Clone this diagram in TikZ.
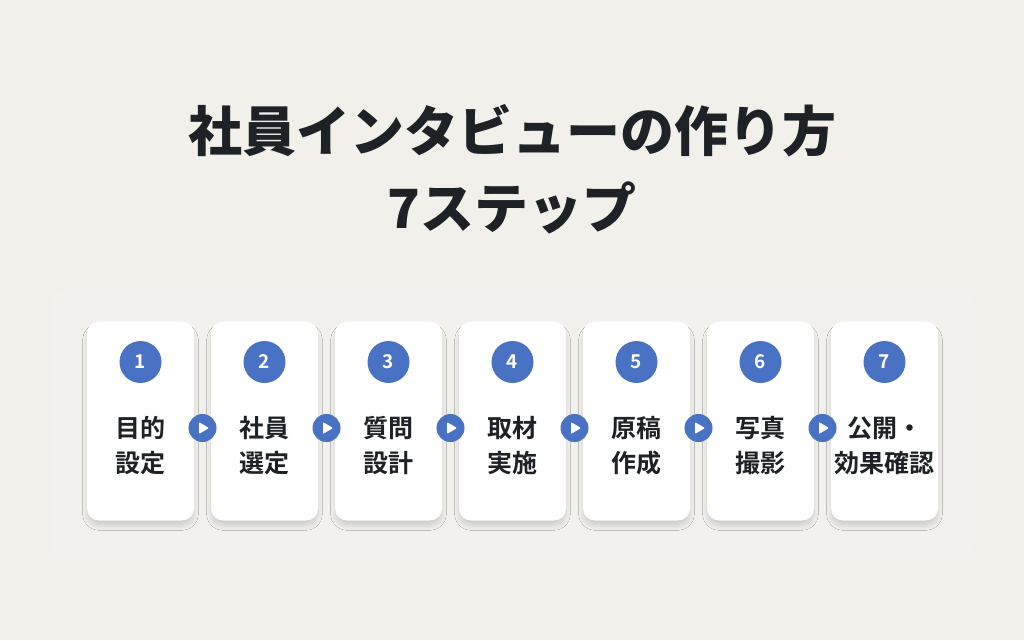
\documentclass[tikz,border=0pt]{standalone}
\usepackage{fontspec}
\setmainfont{Noto Sans CJK JP}[BoldFont = {Noto Sans CJK JP Bold}]
\newfontfamily\heavyfont{Noto Sans CJK JP Black}
\usetikzlibrary{shadows.blur}

\definecolor{bgpaper}{RGB}{242,240,235}
\definecolor{bgpanel}{RGB}{243,241,237}
\definecolor{stepblue}{RGB}{74,114,196}
\definecolor{inkdark}{RGB}{30,34,38}

\begin{document}
\begin{tikzpicture}[%
        x = 1pt,
        y = -1pt,
        title/.style = {
            font = \fontsize{54}{77}\selectfont\heavyfont,
            text = inkdark,
            align = center,
            inner sep = 0
        },
        card/.style = {
            fill = white,
            rounded corners = 12pt,
            minimum width = 107pt,
            minimum height = 199pt,
            inner sep = 0,
            blur shadow = {%
                shadow xshift = 0pt,
                shadow yshift = -6pt,
                shadow scale = 0.99,
                shadow blur radius = 5pt,
                shadow blur steps = 12,
                shadow opacity = 16
            }
        },
        stepnum/.style = {
            circle,
            fill = stepblue,
            text = white,
            minimum size = 42pt,
            inner sep = 0,
            font = \fontsize{19}{19}\selectfont\bfseries
        },
        steplabel/.style = {
            text = inkdark,
            align = center,
            inner sep = 0,
            font = \fontsize{25}{35}\selectfont\bfseries
        },
        nextdot/.style = {
            circle,
            fill = stepblue,
            minimum size = 28pt,
            inner sep = 0
        }
    ]

        % Page and the faint panel behind the cards.
        \useasboundingbox (0, 0) rectangle (1024, 640);
        \fill[bgpaper] (0, 0) rectangle (1024, 640);
        \fill[bgpanel, rounded corners = 20pt] (50, 288) rectangle (975, 562);

        % Title.
        \node[title] (head) at (512, 169) {社員インタビューの作り方\\7ステップ};

        % Cards.
        \node[card] (card1) at (140.5, 421) {};
        \node[card] (card2) at (264.5, 421) {};
        \node[card] (card3) at (388.5, 421) {};
        \node[card] (card4) at (512.5, 421) {};
        \node[card] (card5) at (636.5, 421) {};
        \node[card] (card6) at (760.5, 421) {};
        \node[card] (card7) at (884.5, 421) {};

        % Step numbers.
        \node[stepnum] (num1) at (140.5, 362) {1};
        \node[stepnum] (num2) at (264.5, 362) {2};
        \node[stepnum] (num3) at (388.5, 362) {3};
        \node[stepnum] (num4) at (512.5, 362) {4};
        \node[stepnum] (num5) at (636.5, 362) {5};
        \node[stepnum] (num6) at (760.5, 362) {6};
        \node[stepnum] (num7) at (884.5, 362) {7};

        % Step labels.
        \node[steplabel] (lab1) at (140.5, 446) {目的\\設定};
        \node[steplabel] (lab2) at (264.5, 446) {社員\\選定};
        \node[steplabel] (lab3) at (388.5, 446) {質問\\設計};
        \node[steplabel] (lab4) at (512.5, 446) {取材\\実施};
        \node[steplabel] (lab5) at (636.5, 446) {原稿\\作成};
        \node[steplabel] (lab6) at (760.5, 446) {写真\\撮影};
        \node[steplabel] (lab7) at (884.5, 446) {公開・\\効果確認};

        % Markers between the cards.
        \node[nextdot] (go1) at (202.5, 428) {};
        \node[nextdot] (go2) at (326.5, 428) {};
        \node[nextdot] (go3) at (450.5, 428) {};
        \node[nextdot] (go4) at (574.5, 428) {};
        \node[nextdot] (go5) at (698.5, 428) {};
        \node[nextdot] (go6) at (822.5, 428) {};

        % White play triangles.
        \begin{scope}[fill = white, rounded corners = 1pt]
            \fill (go1.center) ++(-3.5, -6) -- ++(0, 12) -- ++(10, -6) -- cycle;
            \fill (go2.center) ++(-3.5, -6) -- ++(0, 12) -- ++(10, -6) -- cycle;
            \fill (go3.center) ++(-3.5, -6) -- ++(0, 12) -- ++(10, -6) -- cycle;
            \fill (go4.center) ++(-3.5, -6) -- ++(0, 12) -- ++(10, -6) -- cycle;
            \fill (go5.center) ++(-3.5, -6) -- ++(0, 12) -- ++(10, -6) -- cycle;
            \fill (go6.center) ++(-3.5, -6) -- ++(0, 12) -- ++(10, -6) -- cycle;
        \end{scope}
    \end{tikzpicture}
\end{document}
